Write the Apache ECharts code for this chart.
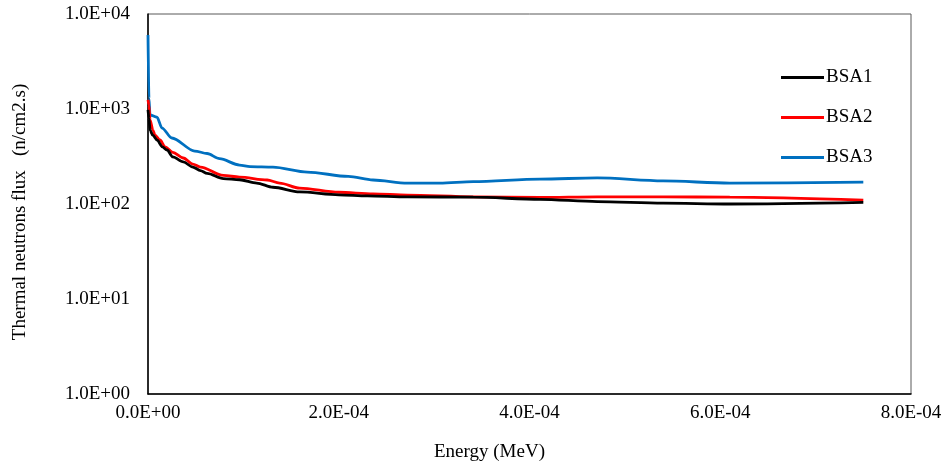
<!DOCTYPE html>
<html>
<head>
<meta charset="utf-8">
<script src="https://cdn.jsdelivr.net/npm/echarts@6/dist/echarts.min.js"></script>
<style>
  html, body { margin: 0; padding: 0; background: #fff; }
  #chart { width: 946px; height: 466px; }
</style>
</head>
<body>
<div id="chart"></div>
<script>
// energy (MeV) and flux values
const bsa1Energy = [0, 1.0e-6, 2.1e-6, 5.0e-6, 9.4e-6, 1.5e-5, 2.0e-5, 2.6e-5, 3.7e-5, 4.7e-5, 5.5e-5, 6.2e-5, 7.9e-5, 9.6e-5, 1.14e-4, 1.31e-4, 1.59e-4, 2.0e-4, 2.3e-4, 2.72e-4, 3.41e-4, 4.11e-4, 4.71e-4, 5.4e-4, 6.1e-4, 7.5e-4]
const bsa1Flux = [980, 800, 600, 530, 472, 400, 370, 313, 277, 245, 225, 210, 185, 180, 166, 150, 134, 125, 122, 119, 118, 112, 106, 102, 100, 104]

const bsa2Energy = [0, 1.0e-6, 2.1e-6, 5.2e-6, 7.3e-6, 1.26e-5, 1.78e-5, 2.6e-5, 3.7e-5, 4.7e-5, 5.5e-5, 7.9e-5, 9.6e-5, 1.25e-4, 1.38e-4, 1.59e-4, 2.0e-4, 2.36e-4, 2.72e-4, 3.41e-4, 4.11e-4, 4.71e-4, 5.4e-4, 6.1e-4, 7.5e-4]
const bsa2Flux = [1250, 1100, 766, 600, 532, 472, 400, 350, 305, 263, 245, 200, 192, 179, 166, 147, 133, 128, 124, 119, 117, 119, 119, 118, 110]

const bsa3Energy = [0, 1.0e-6, 2.1e-6, 9.4e-6, 1.47e-5, 2.5e-5, 4.9e-5, 6.2e-5, 7.5e-5, 9.6e-5, 1.07e-4, 1.31e-4, 1.67e-4, 2.1e-4, 2.36e-4, 2.72e-4, 3.06e-4, 3.41e-4, 4.11e-4, 4.71e-4, 5.4e-4, 6.1e-4, 7.5e-4]
const bsa3Flux = [6000, 1300, 865, 820, 630, 495, 361, 340, 300, 257, 248, 245, 217, 195, 179, 166, 166, 172, 183, 188, 175, 166, 170]

const seriesNames = ['BSA1', 'BSA2', 'BSA3']
const seriesColors = ['#000000', '#ff0000', '#0070c0']

const font = '"Liberation Serif", "Times New Roman", serif'

function sci(v) {
  if (v === 0) return '0.0E+00'
  const e = Math.floor(Math.log10(Math.abs(v)) + 1e-9)
  const m = v / Math.pow(10, e)
  const sign = e < 0 ? '-' : '+'
  const ee = String(Math.abs(e)).padStart(2, '0')
  return m.toFixed(1) + 'E' + sign + ee
}

function pairs(xs, ys) {
  return xs.map((x, i) => [x, ys[i]])
}

const chart = echarts.init(document.getElementById('chart'))
chart.setOption({
  animation: false,
  textStyle: { fontFamily: font },
  grid: {
    left: 148, right: 35, top: 14, bottom: 72,
    show: true, borderColor: '#595959', borderWidth: 1
  },
  legend: {
    orient: 'vertical',
    left: 776, top: 63,
    icon: 'rect',
    itemWidth: 43, itemHeight: 3,
    itemGap: 21,
    textStyle: { fontFamily: font, fontSize: 19, color: '#000', padding: [0, 0, 0, -3] },
    data: seriesNames
  },
  xAxis: {
    type: 'value',
    min: 0, max: 8e-4, interval: 2e-4,
    axisLine: { show: true, onZero: false, lineStyle: { color: '#000', width: 1.5 } },
    axisTick: { show: false },
    splitLine: { show: false },
    axisLabel: { formatter: sci, fontSize: 19, color: '#000', margin: 10, fontFamily: font }
  },
  yAxis: {
    type: 'log', logBase: 10,
    min: 1, max: 10000,
    name: 'Thermal neutrons flux   (n/cm2.s)',
    nameLocation: 'middle',
    nameGap: 118,
    nameTextStyle: { fontSize: 19, color: '#000', fontFamily: font, padding: [0, 16, 0, 0] },
    axisLine: { show: true, lineStyle: { color: '#000', width: 1.5 } },
    axisTick: { show: false },
    minorTick: { show: false },
    splitLine: { show: false },
    axisLabel: { formatter: sci, fontSize: 19, color: '#000', margin: 18, fontFamily: font }
  },
  graphic: [{
    type: 'text',
    left: 434, top: 443,
    style: { text: 'Energy (MeV)', font: '19px ' + font, fill: '#000' }
  }],
  series: [
    { name: 'BSA1', data: pairs(bsa1Energy, bsa1Flux) },
    { name: 'BSA2', data: pairs(bsa2Energy, bsa2Flux) },
    { name: 'BSA3', data: pairs(bsa3Energy, bsa3Flux) }
  ].map((s, i) => ({
    name: s.name,
    type: 'line',
    data: s.data,
    smooth: 0.3,
    smoothMonotone: 'x',
    showSymbol: false,
    z: 3 - i,
    lineStyle: { width: 2.8, color: seriesColors[i] },
    itemStyle: { color: seriesColors[i] }
  }))
})
</script>
</body>
</html>
